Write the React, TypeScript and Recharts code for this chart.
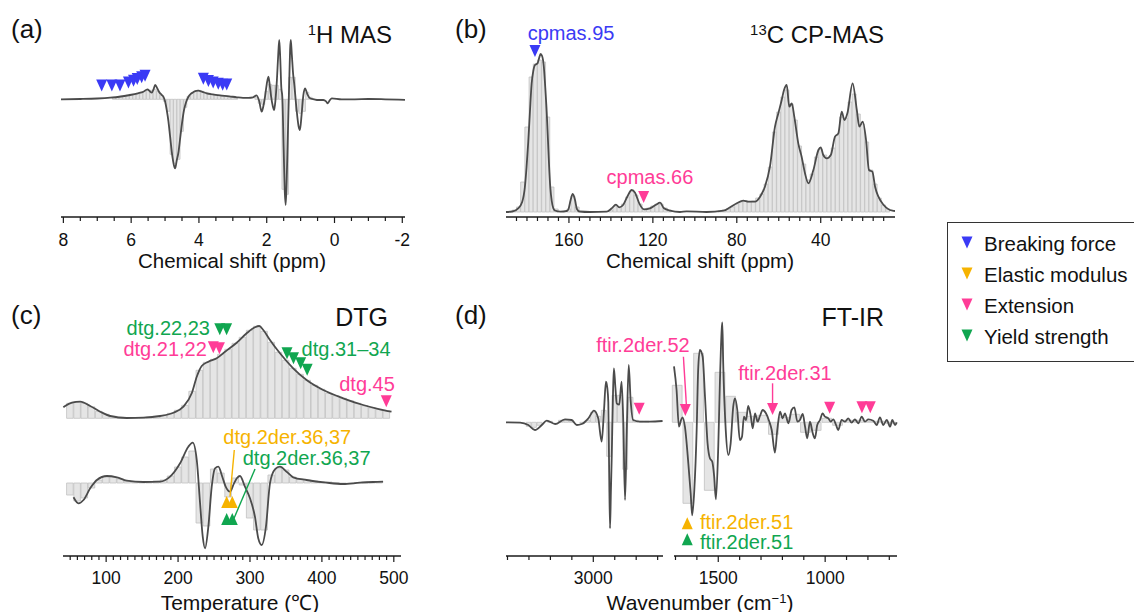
import React from 'react';
import { Bar, ComposedChart, Line, ReferenceLine, Scatter, XAxis, YAxis } from 'recharts';

const FONT = "'Liberation Sans', Arial, Helvetica, sans-serif";
const INK = '#1a1a1a';
const CURVE = '#4b4b4b';
const BAR_FILL = '#e5e5e5';
const BAR_EDGE = '#c2c2c2';
const BLUE = '#3a3af5';
const ORANGE = '#f6b300';
const PINK = '#ff3c97';
const GREEN = '#10a650';

type Pt = [number, number];

// ---------- (a) 1H MAS ----------
const h1Labels = [8, 6, 4, 2, 0, -2];
const h1Curve: Pt[] = [
  [8.07, 0], [7.5, 0.3], [7.0, 0.8], [6.62, 1.6], [6.3, 2.8], [6.03, 4.3], [5.8, 6], [5.64, 7.6],
  [5.52, 10], [5.45, 8], [5.39, 6.6], [5.34, 10], [5.29, 14.3], [5.23, 11], [5.18, 7.6], [5.1, 4.5],
  [5.05, 2.6], [5.0, -2], [4.95, -10.7], [4.9, -22], [4.85, -37.4], [4.78, -58], [4.72, -68],
  [4.7, -69], [4.66, -62], [4.6, -52], [4.56, -40.7], [4.5, -24], [4.44, -10.7], [4.38, -3],
  [4.31, 2.6], [4.24, 5.5], [4.17, 7], [4.08, 8.5], [4.02, 8.6], [3.9, 7.5], [3.77, 6], [3.6, 5],
  [3.38, 4], [3.1, 3], [2.88, 2], [2.7, 1.5], [2.54, 1.5], [2.4, 2], [2.3, 4], [2.22, -2],
  [2.15, -12.4], [2.1, -7], [2.05, 2.6], [2.0, 15], [1.95, 22.6], [1.91, 14], [1.87, 2.6],
  [1.82, -7], [1.78, -10.7], [1.74, 0], [1.7, 19], [1.66, 45], [1.63, 59.3], [1.6, 40], [1.57, 12],
  [1.54, 2.6], [1.5, -50], [1.47, -90], [1.44, -105.7], [1.41, -80], [1.38, -40], [1.36, -14],
  [1.33, 25], [1.31, 50], [1.29, 59.3], [1.26, 45], [1.22, 25], [1.19, 16], [1.12, -10],
  [1.06, -27], [1.02, -30.7], [0.97, -15], [0.92, 4], [0.87, 11], [0.8, 5], [0.72, 1], [0.6, 0],
  [0.48, -0.7], [0.33, -0.7], [0.25, -2], [0.2, -4], [0.14, -1], [0.08, 1], [-0.21, 0], [-0.6, 0],
  [-1.0, 0.3], [-1.5, 0], [-2.08, -0.5],
];
const h1Bins: Pt[] = [
  [6.5, 2], [6.4, 2], [6.3, 3], [6.2, 3], [6.1, 4], [6.0, 5], [5.9, 5], [5.8, 6], [5.7, 7], [5.6, 8],
  [5.5, 9], [5.4, 9], [5.3, 10], [5.2, 8], [5.1, 4], [5.0, -2], [4.9, -12], [4.8, -55], [4.7, -64],
  [4.6, -60], [4.5, -32], [4.4, -8], [4.3, 3], [4.2, 6], [4.1, 8], [4.0, 9], [3.9, 8], [3.8, 7],
  [3.7, 6], [3.6, 5], [3.5, 4], [3.4, 4], [3.3, 3], [3.2, 3], [3.1, 2], [3.0, 2], [2.9, 1],
  [2.3, 2], [2.2, -4], [2.1, -5], [2.0, 8], [1.9, 15], [1.8, 14], [1.7, 14], [1.6, 10], [1.5, -90],
  [1.4, -95], [1.3, 22], [1.2, 22], [1.1, -12], [1.0, -14], [0.9, -12], [0.8, 7], [0.7, 2],
];
const h1Breaking: Pt[] = [
  [6.87, 13.8], [6.57, 13.8], [6.33, 13.8], [6.08, 16.8], [5.93, 18.5], [5.82, 20.3], [5.69, 22], [5.59, 23.5],
  [3.87, 20.6], [3.72, 18.3], [3.58, 16.8], [3.43, 15.6], [3.3, 14.6], [3.18, 14.8],
];

// ---------- (b) 13C CP-MAS ----------
const c13Labels = [160, 120, 80, 40];
const c13Curve: Pt[] = [
  [190, 0], [187, 0.5], [184.2, 3.7], [182.3, 10], [181, 25], [180.2, 45], [179.4, 70], [178.6, 100],
  [177.8, 128], [177, 141], [176.2, 147], [175.4, 148], [174.9, 149], [174.2, 154], [173.5, 158],
  [172.8, 156], [172, 146], [171.3, 125], [170.6, 100], [170, 72], [169.5, 48], [168.9, 25],
  [168.2, 11], [167.5, 4], [166.7, 1.5], [164, 0.3], [161, 1], [160.2, 3], [159.2, 12], [158.2, 18],
  [157.1, 12], [156.2, 3], [155, 0.5], [150, 0], [142, 0.3], [139.6, 3.7], [137.6, 7.3], [136, 4.7],
  [134.1, 7.3], [132.2, 15.3], [130.1, 22], [128.5, 19.3], [126.5, 8.7], [124.2, 2.7], [121.4, 3.7],
  [118.5, 7.3], [116.6, 9.3], [114.7, 3.7], [111.8, 1.3], [107.1, 0], [103.9, 0.7], [94.4, 0],
  [86.4, 1.3], [83.2, 4.7], [80, 8.7], [76.9, 11.3], [74.5, 10.3], [71.3, 10.3], [68.9, 15.3],
  [66.6, 25.3], [64.2, 45.3], [61.8, 85.3], [60.2, 98.7], [58.6, 112], [57.5, 122], [56.2, 127],
  [55, 105.3], [53.8, 108.7], [52.6, 95.3], [50.7, 68.7], [49.1, 55.3], [47.5, 38.7], [45.9, 28.7],
  [43.5, 42], [41.1, 62], [40, 64.7], [38.8, 57], [37.1, 53.7], [35.2, 57], [33.2, 75.3], [31.6, 78.7],
  [30, 100.3], [28.7, 92], [27.3, 98.7], [24.8, 128.7], [22.8, 102], [21.6, 85.3], [20, 90.3],
  [18.4, 72], [17, 42], [15.4, 40.3], [14.1, 25.3], [12.5, 15.3], [10.1, 7.3], [5.8, 1.3], [4.6, 1],
];
const c13Bins: Pt[] = [
  [186, 2], [184, 5], [182, 30], [180, 85], [178, 135], [176, 148], [174, 152], [172, 150], [170, 95],
  [168, 25], [166, 3], [160, 3], [158, 16], [156, 5], [140, 2], [138, 6], [136, 5], [134, 8], [132, 15],
  [130, 21], [128, 17], [126, 8], [124, 3], [122, 4], [120, 6], [118, 8], [116, 8], [114, 4], [112, 2],
  [88, 1], [86, 2], [84, 3], [82, 5], [80, 8], [78, 10], [76, 11], [74, 10], [72, 11], [70, 14],
  [68, 18], [66, 28], [64, 45], [62, 80], [60, 100], [58, 115], [56, 122], [54, 108], [52, 92],
  [50, 66], [48, 48], [46, 32], [44, 38], [42, 55], [40, 63], [38, 57], [36, 54], [34, 64], [32, 77],
  [30, 95], [28, 94], [26, 110], [24, 118], [22, 98], [20, 88], [18, 70], [16, 42], [14, 28], [12, 14],
  [10, 7], [8, 3],
];
const c13Breaking: Pt[] = [[176.2, 161]];
const c13Extension: Pt[] = [[124.4, 15]];

// ---------- (c) DTG ----------
const dtgLabels = [100, 200, 300, 400, 500];
const dtgCurve: Pt[] = [
  [40.5, 11], [43, 12.3], [52.4, 15.6], [63.9, 16.6], [77.8, 12.3], [91.7, 6.6], [105.6, 2.3],
  [128.7, 0.3], [151.8, 0.6], [175, 2.3], [193.5, 5.6], [207.4, 11.6], [219, 25], [226, 41.6],
  [232.9, 52.3], [242.1, 56.6], [253.7, 60], [265.3, 66.6], [281.5, 75.6], [295.4, 85], [306.9, 91],
  [312.9, 92.3], [318.5, 88.3], [327.8, 78.3], [341.7, 65], [360.1, 50], [378.7, 38.3], [401.8, 28.3],
  [429.6, 20], [457.4, 13.3], [480.6, 9], [496.8, 6.6],
];
const dtgBins: Pt[] = [
  [50, 15], [60, 16.5], [70, 15], [80, 11.5], [90, 7], [100, 4], [110, 2], [120, 1], [130, 0.5],
  [140, 0.5], [150, 0.5], [160, 1.2], [170, 2], [180, 3], [190, 5], [200, 8], [210, 13], [220, 27],
  [230, 48], [240, 56], [250, 59], [260, 64], [270, 69], [280, 75], [290, 81], [300, 88], [310, 92],
  [320, 87], [330, 76], [340, 66], [350, 58], [360, 50], [370, 44], [380, 38], [390, 33], [400, 29],
  [410, 25], [420, 22.5], [430, 20], [440, 17.5], [450, 15], [460, 12.5], [470, 10.5], [480, 9],
  [490, 7.5],
];
const dtg2Curve: Pt[] = [
  [54.6, -14.3], [61.5, -20.3], [68.5, -17], [77.8, -5.3], [87.1, 3], [101, 7], [114.9, 5.7],
  [128.7, 2.3], [151.8, 1], [175, 1.3], [188.9, 6.3], [202.8, 19.7], [214.3, 36.3], [220.4, 40.3],
  [226, 23], [230.6, -20.3], [234.3, -53.7], [237.5, -65.3], [242.1, -43.7], [246.8, -3.7],
  [251.4, 14.7], [256, 16.3], [261.5, 6.3], [266.2, -3.7], [272.2, -8.7], [277.8, -0.3], [282, 5],
  [286.1, 7], [293, -3.7], [300, -15.3], [306.9, -33.7], [311.5, -55.3], [316.3, -62], [322.2, -43.7],
  [327.8, -0.3], [334.7, 13.7], [341.7, 16.3], [351, 11.3], [360.1, 5.7], [378.7, 3], [406.5, 0.3],
  [429.6, -1], [452.8, 0.3], [471.3, 1], [485.1, 1.3],
];
const dtg2Bins: Pt[] = [
  [50, -12], [60, -18], [70, -15], [80, -5], [90, 3], [100, 6], [110, 6], [120, 4], [130, 2], [140, 1],
  [150, 1], [160, 1], [170, 2], [180, 3], [190, 7], [200, 16], [210, 26], [220, 32], [230, -40],
  [240, -43], [250, 14], [260, 10], [270, -14], [280, 5], [290, -2], [300, -35], [310, -47], [320, -47],
  [330, 8], [340, 15], [350, 13], [360, 6], [370, 4], [380, 3], [390, 2], [400, 1], [410, 1],
  [420, 0.5], [430, -0.5], [440, -0.5], [450, 0.5], [460, 1], [470, 1], [480, 1],
];
const dtgYield: Pt[] = [[258, 89], [267.5, 89], [351.5, 65], [360.5, 60], [370.5, 55], [379.5, 48.5]];
const dtgExtension: Pt[] = [[249, 71], [257.5, 70], [489.5, 17]];
const dtg2Elastic: Pt[] = [[267.6, -19], [275.4, -19]];
const dtg2Yield: Pt[] = [[267.6, -36], [275.4, -36]];

// ---------- (d) FT-IR ----------
const irLeftLabels = [3000];
const irRightLabels = [1500, 1000];
const irLeftCurve: Pt[] = [
  [3407, 0], [3396, 0], [3341, -0.3], [3303, -2.7], [3272, -7.7], [3240, -2.7], [3217, 1.7],
  [3178, -1.7], [3132, 3], [3101, 2.3], [3077, -2.7], [3054, -1.7], [3023, 4], [2997, 11.7],
  [2977, 4], [2961, -19.3], [2950, 12.3], [2941, 40.7], [2935, 35], [2930, 20], [2926, -50],
  [2922, -106], [2918, -70], [2914, -34.3], [2908, 30], [2904, 54], [2897, 35], [2891, 19],
  [2879, 17.7], [2868, 40.7], [2860, -1], [2852, -77.7], [2844, -9.3], [2835, 57.3], [2826, 22.3],
  [2814, 2.3], [2782, 0.7], [2736, 0.7], [2677, 1.3],
];
const irLeftBins: Pt[] = [
  [3300, -4], [3275, -5], [3250, -3], [3200, 1], [3150, 2], [3125, 2], [3100, 1], [3050, -1],
  [3025, 2], [3000, 10], [2975, 6], [2950, 12], [2925, -34], [2900, 27], [2875, 27], [2850, -47],
  [2825, 25], [2800, 2], [2775, 1], [2750, 1],
];
const irRightCurve: Pt[] = [
  [1707, 56], [1695, 32.3], [1684, -4.4], [1674, 2.3], [1667, 5], [1656, -4.4], [1640, -41],
  [1629, -71], [1622, -93], [1612, -67.7], [1601, -7.7], [1594, 52.3], [1586, 72.3], [1573, 65.6],
  [1562, 25.6], [1550, -21], [1539, -36], [1528, -39.4], [1519, -54.4], [1511, -77], [1500, -24.4],
  [1492, 42.3], [1484, 92.3], [1481, 100], [1477, 60], [1465, -7.7], [1453, -32.7], [1442, -21],
  [1430, 15.6], [1422, 24], [1411, 12.3], [1399, -17.7], [1389, -14.4], [1380, 5.6], [1370, 2.3],
  [1360, 16.3], [1348, 6.3], [1339, -6], [1328, 9], [1316, 0.6], [1305, 6.3], [1292, 12.3],
  [1277, 9], [1261, 0.6], [1250, -7.7], [1235, -30.4], [1224, -7.7], [1211, 10.6], [1199, 4],
  [1188, 9], [1172, -1], [1157, 12.3], [1144, 15], [1130, 0.6], [1118, 2.3], [1105, 8.3],
  [1094, -4.4], [1084, -16], [1071, 0.6], [1058, -11], [1048, -16], [1037, -2.7], [1024, 2.3],
  [1012, 9], [1001, 5.6], [985, 4], [974, 0.6], [962, 3], [949, -2.7], [939, -7.7], [923, 2.3],
  [907, 0.6], [892, 4], [876, -0.4], [861, 3], [845, -1], [829, 5.6], [814, 0.6], [798, 3],
  [775, 1.6], [759, -2.7], [744, 5], [728, -2.7], [712, 2.3], [696, -4.4], [686, 2.3], [673, -2.7],
  [665, 0],
];
const irRightBins: Pt[] = [
  [1690, 37], [1640, -81], [1590, 69], [1540, -68], [1490, 50], [1440, 26], [1390, 10], [1340, 6],
  [1290, 7], [1240, -12], [1190, 5], [1140, 8], [1090, -10], [1040, -8], [990, 4], [940, -3],
  [890, 2], [840, 2], [790, 1], [740, 1], [690, -1],
];
const irLeftExtension: Pt[] = [[2786, 13.5]];
const irRightExtension: Pt[] = [[1654, 12.3], [1246, 13.3], [979, 14.6], [828, 15], [789, 15]];
const irElastic: Pt[] = [[1645, -101]];
const irYield: Pt[] = [[1645, -117]];

// ---------- annotations ----------
type Note = { x: number; y: number; text: string; color: string; anchor: 'start' | 'middle' | 'end' };
const c13Notes: Note[] = [
  { x: 159.0, y: 179, text: 'cpmas.95', color: BLUE, anchor: 'middle' },
  { x: 121.4, y: 35, text: 'cpmas.66', color: PINK, anchor: 'middle' },
];
const dtgNotes: Note[] = [
  { x: 244.4, y: 90.5, text: 'dtg.22,23', color: GREEN, anchor: 'end' },
  { x: 240, y: 69, text: 'dtg.21,22', color: PINK, anchor: 'end' },
  { x: 371.8, y: 69, text: 'dtg.31–34', color: GREEN, anchor: 'start' },
  { x: 501.4, y: 34, text: 'dtg.45', color: PINK, anchor: 'end' },
];
const dtg2Notes: Note[] = [
  { x: 262.9, y: 46, text: 'dtg.2der.36,37', color: ORANGE, anchor: 'start' },
  { x: 289.9, y: 25.5, text: 'dtg.2der.36,37', color: GREEN, anchor: 'start' },
];
const irLeftNotes: Note[] = [{ x: 2768.5, y: 77.3, text: 'ftir.2der.52', color: PINK, anchor: 'middle' }];
const irRightNotes: Note[] = [
  { x: 1188, y: 49, text: 'ftir.2der.31', color: PINK, anchor: 'middle' },
  { x: 1585.6, y: -99.4, text: 'ftir.2der.51', color: ORANGE, anchor: 'start' },
  { x: 1585.6, y: -119.4, text: 'ftir.2der.51', color: GREEN, anchor: 'start' },
];
const dtg2Leaders = [
  { from: [278.2, 33], to: [272.2, -13.7], color: ORANGE },
  { from: [307, 14], to: [276.8, -37], color: GREEN },
];
const irLeaders = [
  { from: [1663, 65.6], to: [1649, 17.3], color: PINK },
  { from: [1246, 39], to: [1246, 16.5], color: PINK },
];
const legendItems = [
  { label: 'Breaking force', color: BLUE },
  { label: 'Elastic modulus', color: ORANGE },
  { label: 'Extension', color: PINK },
  { label: 'Yield strength', color: GREEN },
];

// ---------- helpers ----------
type Box = { L: number; T: number; W: number; H: number };
const PAD = { l: 30, r: 40, t: 12, b: 44 };
const BOX_A: Box = { L: 61, T: 14, W: 344, H: 203 };
const BOX_B: Box = { L: 506, T: 14, W: 389, H: 203 };
const BOX_C: Box = { L: 63, T: 297, W: 338, H: 259 };
const BOX_DL: Box = { L: 506, T: 297, W: 157, H: 259 };
const BOX_DR: Box = { L: 674, T: 297, W: 223, H: 259 };

const rows = (pts: Pt[]) => pts.map(([x, y]) => ({ x, y }));
const steps = (a: number, b: number, s: number) => {
  const out: number[] = [];
  for (let v = a; v <= b + 1e-9; v += s) out.push(Math.round(v * 1000) / 1000);
  return out;
};
const size = (b: Box) => ({
  width: b.W + PAD.l + PAD.r,
  height: b.H + PAD.t + PAD.b,
  margin: { top: PAD.t, right: PAD.r, bottom: 0, left: PAD.l },
});

function Holder({ box, children }: { box: Box; children: React.ReactNode }) {
  return <div style={{ position: 'absolute', left: box.L - PAD.l, top: box.T - PAD.t }}>{children}</div>;
}

function tickMaker(labels: number[], dy: number) {
  return function TickMark(props: any) {
    const { x, y, payload } = props;
    const v = Number(payload?.value);
    const major = labels.some((m) => Math.abs(m - v) < 1e-6);
    return (
      <g>
        <line x1={x} x2={x} y1={y} y2={y + (major ? 6 : 4)} stroke={INK} strokeWidth={1.2} />
        {major ? (
          <text x={x} y={y + dy} textAnchor="middle" fontSize={17.5} fontFamily={FONT} fill="#111">
            {String(v)}
          </text>
        ) : null}
      </g>
    );
  };
}

type AxisCfg = {
  xDom: [number, number];
  rev: boolean;
  ticks: number[];
  labels: number[];
  dy: number;
  yl: [string | number, [number, number]];
  yr: [string | number, [number, number]];
  left: boolean;
  right: boolean;
};

function frameAxes(c: AxisCfg, visible: boolean) {
  const edge = (on: boolean) => (visible && on ? { stroke: INK, strokeWidth: 1.5 } : false);
  return [
    <XAxis key="xb" dataKey="x" type="number" domain={c.xDom} reversed={c.rev} ticks={c.ticks} interval={0}
      height={PAD.b} tickSize={0} tickMargin={0} tickLine={false} axisLine={edge(true)}
      tick={visible ? tickMaker(c.labels, c.dy) : false} />,
    <XAxis key="xt" xAxisId="top" orientation="top" dataKey="x" type="number" domain={c.xDom} reversed={c.rev}
      height={0} tick={false} tickLine={false} axisLine={edge(true)} />,
    <YAxis key="yl" yAxisId={c.yl[0]} dataKey="y" type="number" domain={c.yl[1]} width={0}
      tick={false} tickLine={false} axisLine={edge(c.left)} />,
    <YAxis key="yr" yAxisId={c.yr[0]} orientation="right" dataKey="y" type="number" domain={c.yr[1]} width={0}
      tick={false} tickLine={false} axisLine={edge(c.right)} />,
  ];
}

const tri = (color: string, dir: 'down' | 'up') =>
  function Tri(props: any) {
    const { cx, cy } = props;
    if (cx == null || cy == null || Number.isNaN(cx) || Number.isNaN(cy)) return <g />;
    const w = 5.5;
    const h = 6;
    const pts =
      dir === 'down'
        ? `${cx - w},${cy - h} ${cx + w},${cy - h} ${cx},${cy + h}`
        : `${cx - w},${cy + h} ${cx + w},${cy + h} ${cx},${cy - h}`;
    return <polygon points={pts} fill={color} />;
  };

function NoteShape(props: any) {
  const { cx, cy, payload } = props;
  if (cx == null || cy == null || !payload) return <g />;
  return (
    <text x={cx} y={cy + 7.1} textAnchor={payload.anchor} fill={payload.color} fontSize={20} fontFamily={FONT}>
      {payload.text}
    </text>
  );
}

const bar = (yAxisId: string | number, w: number) => (
  <Bar yAxisId={yAxisId} dataKey="y" barSize={w} fill={BAR_FILL} stroke={BAR_EDGE} strokeWidth={0.8}
    isAnimationActive={false} />
);
const curve = (pts: Pt[], yAxisId: string | number = 0) => (
  <Line data={rows(pts)} yAxisId={yAxisId} dataKey="y" type="monotone" stroke={CURVE} strokeWidth={1.8}
    dot={false} activeDot={false} isAnimationActive={false} />
);
const marks = (pts: Pt[], color: string, dir: 'down' | 'up', yAxisId: string | number = 0) => (
  <Scatter data={rows(pts)} yAxisId={yAxisId} dataKey="y" shape={tri(color, dir)} isAnimationActive={false} />
);
const notes = (list: Note[], yAxisId: string | number = 0) => (
  <Scatter data={list} yAxisId={yAxisId} dataKey="y" shape={NoteShape} isAnimationActive={false} />
);

function Txt({ x, y, size: fs, anchor = 'start', children }: { x: number; y: number; size: number; anchor?: string; children: React.ReactNode }) {
  const tx = anchor === 'middle' ? '-50%' : anchor === 'end' ? '-100%' : '0';
  return (
    <div style={{ position: 'absolute', left: x, top: y, transform: `translate(${tx}, -50%)`, fontSize: fs,
      lineHeight: 1, whiteSpace: 'nowrap', color: '#111', fontFamily: FONT }}>
      {children}
    </div>
  );
}
const Sup = ({ children }: { children: React.ReactNode }) => (
  <span style={{ fontSize: '0.62em', position: 'relative', top: '-0.55em' }}>{children}</span>
);

// ---------- panels ----------
function PanelA() {
  const cfg: AxisCfg = { xDom: [-2.08, 8.07], rev: true, ticks: steps(-2, 8, 0.5), labels: h1Labels, dy: 28.5,
    yl: [0, [-117.7, 85.3]], yr: ['r', [-117.7, 85.3]], left: true, right: true };
  return (
    <>
      <Holder box={BOX_A}>
        <ComposedChart data={rows(h1Bins)} {...size(BOX_A)}>
          {frameAxes(cfg, false)}
          {bar(0, 3.1)}
        </ComposedChart>
      </Holder>
      <Holder box={BOX_A}>
        <ComposedChart {...size(BOX_A)}>
          {frameAxes(cfg, true)}
          {curve(h1Curve)}
          {marks(h1Breaking, BLUE, 'down')}
        </ComposedChart>
      </Holder>
    </>
  );
}

function PanelB() {
  const cfg: AxisCfg = { xDom: [4.6, 190], rev: true, ticks: steps(10, 185, 5), labels: c13Labels, dy: 28.5,
    yl: [0, [-5, 198]], yr: ['r', [-5, 198]], left: true, right: true };
  return (
    <>
      <Holder box={BOX_B}>
        <ComposedChart data={rows(c13Bins)} {...size(BOX_B)}>
          {frameAxes(cfg, false)}
          {bar(0, 3.9)}
        </ComposedChart>
      </Holder>
      <Holder box={BOX_B}>
        <ComposedChart {...size(BOX_B)}>
          {frameAxes(cfg, true)}
          {curve(c13Curve)}
          {marks(c13Breaking, BLUE, 'down')}
          {marks(c13Extension, PINK, 'down')}
          {notes(c13Notes)}
        </ComposedChart>
      </Holder>
    </>
  );
}

function PanelC() {
  const cfg: AxisCfg = { xDom: [40, 510], rev: false, ticks: steps(50, 500, 10), labels: dtgLabels, dy: 28,
    yl: ['u', [-137.7, 121.3]], yr: ['l', [-73, 186]], left: true, right: true };
  return (
    <>
      <Holder box={BOX_C}>
        <ComposedChart data={rows(dtgBins)} {...size(BOX_C)}>
          {frameAxes(cfg, false)}
          {bar('u', 6.6)}
        </ComposedChart>
      </Holder>
      <Holder box={BOX_C}>
        <ComposedChart data={rows(dtg2Bins)} {...size(BOX_C)}>
          {frameAxes(cfg, false)}
          {bar('l', 6.6)}
        </ComposedChart>
      </Holder>
      <Holder box={BOX_C}>
        <ComposedChart {...size(BOX_C)}>
          {frameAxes(cfg, true)}
          {curve(dtgCurve, 'u')}
          {curve(dtg2Curve, 'l')}
          {dtg2Leaders.map((s, i) => (
            <ReferenceLine key={i} yAxisId="l" segment={[{ x: s.from[0], y: s.from[1] }, { x: s.to[0], y: s.to[1] }]}
              stroke={s.color} strokeWidth={1.4} />
          ))}
          {marks(dtgYield, GREEN, 'down', 'u')}
          {marks(dtgExtension, PINK, 'down', 'u')}
          {marks(dtg2Elastic, ORANGE, 'up', 'l')}
          {marks(dtg2Yield, GREEN, 'up', 'l')}
          {notes(dtgNotes, 'u')}
          {notes(dtg2Notes, 'l')}
        </ComposedChart>
      </Holder>
    </>
  );
}

function PanelD() {
  const yDom: [number, number] = [-133.7, 125.3];
  const left: AxisCfg = { xDom: [2675, 3407], rev: true, ticks: steps(2700, 3400, 100), labels: irLeftLabels, dy: 28,
    yl: [0, yDom], yr: ['r', yDom], left: true, right: false };
  const right: AxisCfg = { xDom: [664, 1707], rev: true, ticks: steps(700, 1700, 100), labels: irRightLabels, dy: 28,
    yl: [0, yDom], yr: ['r', yDom], left: false, right: true };
  return (
    <>
      <Holder box={BOX_DL}>
        <ComposedChart data={rows(irLeftBins)} {...size(BOX_DL)}>
          {frameAxes(left, false)}
          {bar(0, 4.8)}
        </ComposedChart>
      </Holder>
      <Holder box={BOX_DR}>
        <ComposedChart data={rows(irRightBins)} {...size(BOX_DR)}>
          {frameAxes(right, false)}
          {bar(0, 9.8)}
        </ComposedChart>
      </Holder>
      <Holder box={BOX_DL}>
        <ComposedChart {...size(BOX_DL)}>
          {frameAxes(left, true)}
          {curve(irLeftCurve)}
          {marks(irLeftExtension, PINK, 'down')}
          {notes(irLeftNotes)}
        </ComposedChart>
      </Holder>
      <Holder box={BOX_DR}>
        <ComposedChart {...size(BOX_DR)}>
          {frameAxes(right, true)}
          {curve(irRightCurve)}
          {irLeaders.map((s, i) => (
            <ReferenceLine key={i} segment={[{ x: s.from[0], y: s.from[1] }, { x: s.to[0], y: s.to[1] }]}
              stroke={s.color} strokeWidth={1.4} />
          ))}
          {marks(irRightExtension, PINK, 'down')}
          {marks(irElastic, ORANGE, 'up')}
          {marks(irYield, GREEN, 'up')}
          {notes(irRightNotes)}
        </ComposedChart>
      </Holder>
    </>
  );
}

function Legend() {
  return (
    <div style={{ position: 'absolute', left: 947, top: 222, width: 187, height: 140, border: '1.3px solid #333',
      borderRight: 'none', boxSizing: 'border-box' }}>
      {legendItems.map((it, i) => (
        <React.Fragment key={it.label}>
          <svg style={{ position: 'absolute', left: 13, top: 13 + i * 31 }} width={12} height={13}>
            <polygon points="0.5,0.5 11.5,0.5 6,12.5" fill={it.color} />
          </svg>
          <div style={{ position: 'absolute', left: 36, top: 21 + i * 31, transform: 'translateY(-50%)',
            fontSize: 20.5, lineHeight: 1, whiteSpace: 'nowrap', color: '#111', fontFamily: FONT }}>
            {it.label}
          </div>
        </React.Fragment>
      ))}
    </div>
  );
}

export default function App() {
  return (
    <div style={{ position: 'absolute', left: 0, top: 0, width: 1134, height: 612, overflow: 'hidden',
      background: '#fff', fontFamily: FONT }}>
      <PanelA />
      <PanelB />
      <PanelC />
      <PanelD />
      <Txt x={11} y={29} size={26}>(a)</Txt>
      <Txt x={455} y={29} size={26}>(b)</Txt>
      <Txt x={11} y={315} size={26}>(c)</Txt>
      <Txt x={455} y={315} size={26}>(d)</Txt>
      <Txt x={392} y={35} size={24} anchor="end"><Sup>1</Sup>H MAS</Txt>
      <Txt x={884} y={35} size={24} anchor="end"><Sup>13</Sup>C CP-MAS</Txt>
      <Txt x={388} y={317} size={25} anchor="end">DTG</Txt>
      <Txt x={884} y={317} size={25} anchor="end">FT-IR</Txt>
      <Txt x={232} y={260.5} size={20.5} anchor="middle">Chemical shift (ppm)</Txt>
      <Txt x={700} y={260.5} size={20.5} anchor="middle">Chemical shift (ppm)</Txt>
      <Txt x={240} y={602} size={21} anchor="middle">Temperature (℃)</Txt>
      <Txt x={700} y={602} size={21} anchor="middle">Wavenumber (cm<Sup>−1</Sup>)</Txt>
      <Legend />
    </div>
  );
}
